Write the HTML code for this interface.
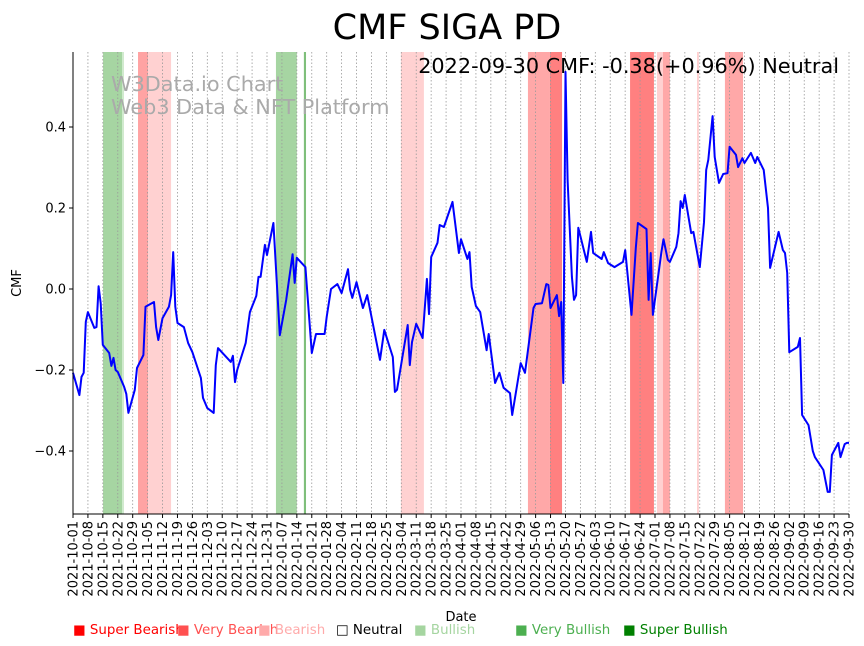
<!DOCTYPE html>
<html><head><meta charset="utf-8">
<style>
body{margin:0;background:#fff;}
svg{display:block;font-family:"Liberation Sans","DejaVu Sans",sans-serif;}
</style></head>
<body>
<svg id="chart" width="864" height="646" viewBox="0 0 864 646" xmlns="http://www.w3.org/2000/svg">
<text x="447" y="39" font-size="35" text-anchor="middle" font-family="DejaVu Sans, sans-serif">CMF SIGA PD</text>
<g id="bands"></g>
<g id="grid"></g>
<text x="111" y="91" font-size="20.8" fill="#aaa" font-family="DejaVu Sans, sans-serif">W3Data.io Chart</text>
<text x="111" y="114" font-size="20.8" fill="#aaa" font-family="DejaVu Sans, sans-serif">Web3 Data &amp; NFT Platform</text>
<path id="line" fill="none" stroke="#0000ff" stroke-width="2" stroke-linejoin="round"/>
<text x="839" y="73" font-size="20.8" text-anchor="end" font-family="DejaVu Sans, sans-serif">2022-09-30 CMF: -0.38(+0.96%) Neutral</text>
<g id="axes"></g>
<text transform="translate(21,283) rotate(-90)" font-size="13" text-anchor="middle" font-family="DejaVu Sans, sans-serif">CMF</text>
<text x="461" y="621" font-size="13" text-anchor="middle" font-family="DejaVu Sans, sans-serif">Date</text>
<g font-size="13.4" font-family="DejaVu Sans, sans-serif">
<text x="73" y="634" fill="#ff0000">■ Super Bearish</text>
<text x="177" y="634" fill="#ff5050">■ Very Bearish</text>
<text x="258" y="634" fill="#ffaaaa">■ Bearish</text>
<text x="336" y="634" fill="#000">□ Neutral</text>
<text x="414" y="634" fill="#a5d5a0">■ Bullish</text>
<text x="515" y="634" fill="#4caf50">■ Very Bullish</text>
<text x="623" y="634" fill="#008000">■ Super Bullish</text>
</g>
</svg>
<script>
const days=[0,3,4,5,6,7,10,11,12,13,14,17,18,19,20,21,24,25,26,29,30,33,34,38,39,40,42,45,46,47,48,49,52,54,56,60,61,63,66,67,68,74,75,76,77,81,83,86,87,88,90,91,94,97,100,103,104,105,109,112,114,118,119,121,124,126,129,130,131,133,136,138,144,146,150,151,152,157,158,159,161,164,166,167,168,171,172,174,178,181,182,185,186,187,189,191,194,195,198,200,202,205,206,210,212,216,217,220,222,223,224,227,228,229,230,231,232,234,235,236,237,241,243,244,248,249,251,254,258,259,262,264,265,269,270,271,272,276,277,279,280,283,284,285,286,287,290,291,294,296,297,298,300,301,303,305,307,308,311,312,314,315,318,320,321,324,326,327,331,333,334,335,336,340,341,342,345,347,348,352,354,355,356,359,360,362,363,364];
const cmf=[-0.207,-0.262,-0.217,-0.207,-0.081,-0.057,-0.096,-0.094,0.007,-0.035,-0.138,-0.158,-0.190,-0.170,-0.200,-0.205,-0.242,-0.259,-0.306,-0.249,-0.195,-0.163,-0.044,-0.032,-0.094,-0.126,-0.072,-0.044,-0.015,0.091,-0.044,-0.084,-0.094,-0.133,-0.156,-0.220,-0.269,-0.294,-0.306,-0.188,-0.146,-0.180,-0.165,-0.230,-0.200,-0.133,-0.057,-0.017,0.030,0.030,0.109,0.084,0.163,-0.114,-0.027,0.086,0.015,0.077,0.054,-0.158,-0.111,-0.111,-0.069,0.000,0.012,-0.010,0.049,-0.002,-0.022,0.017,-0.047,-0.015,-0.175,-0.101,-0.168,-0.254,-0.249,-0.089,-0.188,-0.131,-0.086,-0.121,0.025,-0.062,0.079,0.114,0.158,0.153,0.215,0.089,0.123,0.074,0.091,0.005,-0.042,-0.057,-0.151,-0.111,-0.232,-0.207,-0.244,-0.257,-0.311,-0.183,-0.207,-0.047,-0.037,-0.035,0.012,0.010,-0.047,-0.015,-0.067,-0.032,-0.232,0.536,0.269,0.030,-0.027,-0.015,0.151,0.067,0.141,0.089,0.074,0.091,0.064,0.054,0.067,0.096,-0.064,0.101,0.163,0.148,-0.027,0.089,-0.064,0.091,0.123,0.072,0.067,0.104,0.138,0.217,0.200,0.232,0.138,0.141,0.054,0.165,0.294,0.319,0.427,0.326,0.262,0.284,0.286,0.351,0.331,0.301,0.323,0.311,0.336,0.311,0.326,0.294,0.200,0.052,0.141,0.096,0.089,0.040,-0.156,-0.143,-0.121,-0.311,-0.336,-0.400,-0.415,-0.447,-0.501,-0.501,-0.410,-0.380,-0.415,-0.383,-0.380,-0.380];
const bandStart=[14.1,23,30.5,35.2,95.2,108.3,153.8,213.4,223.7,261.3,273.9,276.7,292.7,305.8];
const bandEnd=[23,23.9,35.2,46,105,109.3,164.6,223.7,229.4,272.5,276.7,280,293.6,314.3];
const bandColor=["#a6d5a2","#cfe9cc","#ffa3a3","#ffd1d1","#a6d5a2","#7fbf7b","#ffd1d1","#ffa8a8","#ff8080","#ff8080","#ffd1d1","#ffa8a8","#ffd1d1","#ffa8a8"];
const yTicks=[0.4,0.2,0.0,-0.2,-0.4];
const yTickLabels=["0.4","0.2","0.0","\u22120.2","\u22120.4"];

const NS="http://www.w3.org/2000/svg";
const X0=73,X1=849,Y0=52,Y1=514,D=364;
const xs=d=>X0+d*(X1-X0)/D;
const ys=v=>289-v*405;
function mk(tag,attrs,parent){const e=document.createElementNS(NS,tag);for(const k in attrs)e.setAttribute(k,attrs[k]);parent.appendChild(e);return e;}

const gb=document.getElementById('bands');
bandStart.forEach((s,i)=>{
  const r=mk('rect',{x:xs(s),y:Y0,width:xs(bandEnd[i])-xs(s),height:Y1-Y0,fill:bandColor[i]},gb);
  
  
});

const gg=document.getElementById('grid');
const ga=document.getElementById('axes');
const start=Date.UTC(2021,9,1);
for(let d=0;d<=D;d+=7){
  const x=xs(d);
  const l=mk('line',{x1:x,x2:x,y1:Y0,y2:Y1,stroke:"#999","stroke-width":0.8,"stroke-dasharray":"1.5,2"},gg);
  
  
  const t=mk('line',{x1:x,x2:x,y1:Y1,y2:Y1+4,stroke:"#000","stroke-width":1},ga);
  
  
  const dt=new Date(start+d*86400000).toISOString().slice(0,10);
  const lb=mk('text',{transform:`translate(${x+4.5},${Y1+7}) rotate(-90)`,"font-size":13,"text-anchor":"end","font-family":"DejaVu Sans, sans-serif"},ga);
  lb.textContent=dt;
  
  
}
yTicks.forEach((v,i)=>{
  const y=ys(v);
  const t=mk('line',{x1:X0-4,x2:X0,y1:y,y2:y,stroke:"#000"},ga);
  
  
  const lb=mk('text',{x:X0-7,y:y+4.5,"font-size":13,"text-anchor":"end","font-family":"DejaVu Sans, sans-serif"},ga);
  lb.textContent=yTickLabels[i];
  
  
});
const la=mk('line',{x1:X0,x2:X0,y1:Y0,y2:Y1,stroke:"#000","stroke-width":1},ga);


const lx=mk('line',{x1:X0,x2:X1,y1:Y1,y2:Y1,stroke:"#000","stroke-width":1},ga);



document.getElementById('line').setAttribute('d',days.map((d,i)=>(i?'L':'M')+xs(d).toFixed(1)+','+ys(cmf[i]).toFixed(1)).join(''));
</script>
</body></html>
